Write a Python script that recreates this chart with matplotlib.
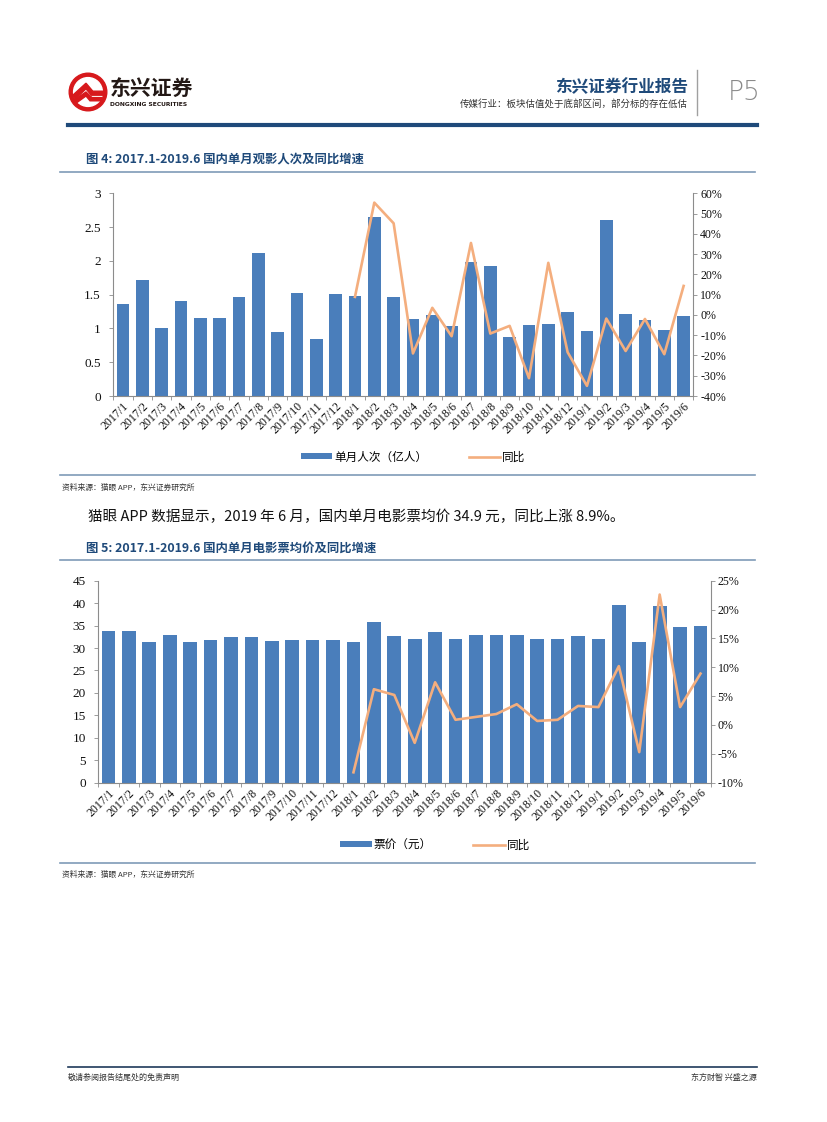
import numpy as np
import matplotlib
matplotlib.use("Agg")
import matplotlib.pyplot as plt
from matplotlib.lines import Line2D
from matplotlib.patches import Patch, Circle, Polygon
from matplotlib.ticker import FuncFormatter, FixedLocator

plt.rcParams['font.family'] = ['Noto Sans CJK SC', 'DejaVu Sans']

W, H = 827, 1122

# ---- 数据 ----
months = ['2017/1', '2017/2', '2017/3', '2017/4', '2017/5', '2017/6', '2017/7', '2017/8',
          '2017/9', '2017/10', '2017/11', '2017/12', '2018/1', '2018/2', '2018/3', '2018/4',
          '2018/5', '2018/6', '2018/7', '2018/8', '2018/9', '2018/10', '2018/11', '2018/12',
          '2019/1', '2019/2', '2019/3', '2019/4', '2019/5', '2019/6']

# 单月观影人次（亿人）
viewers = [1.36, 1.71, 1.01, 1.40, 1.16, 1.16, 1.46, 2.12, 0.94, 1.52, 0.85, 1.51,
           1.48, 2.65, 1.47, 1.14, 1.20, 1.04, 1.98, 1.92, 0.88, 1.05, 1.07, 1.24,
           0.96, 2.60, 1.21, 1.12, 0.97, 1.19]
# 同比（2018/1 起）
viewers_yoy = [8.9, 55.4, 45.2, -19.0, 3.5, -10.5, 35.5, -9.2, -5.4, -31.2, 25.7, -18.4,
               -35.0, -1.8, -17.8, -2.0, -19.4, 14.3]

# 票价（元）
price = [33.9, 33.8, 31.3, 33.0, 31.3, 31.8, 32.4, 32.4, 31.6, 31.8, 31.8, 31.7,
         31.3, 35.9, 32.7, 32.0, 33.6, 32.1, 32.8, 33.0, 32.8, 32.1, 32.1, 32.7,
         32.1, 39.6, 31.3, 39.3, 34.7, 34.9]
price_yoy = [-8.2, 6.2, 5.2, -3.1, 7.4, 0.9, 1.4, 1.9, 3.6, 0.7, 0.9, 3.3,
             3.1, 10.2, -4.7, 22.6, 3.1, 8.9]

BAR = '#4A7EBB'
LINE = '#F4AE7E'
NAVY = '#1F4A7A'
GRAY = '#8C8C8C'
SERIF = 'Liberation Serif'


def fx(px):
    return px / W


def fy(py):
    return 1 - py / H


def hline(fig, y, x0, x1, color, lw):
    fig.add_artist(Line2D([fx(x0), fx(x1)], [fy(y), fy(y)], color=color, lw=lw,
                          transform=fig.transFigure))


def make_chart(fig, box, bars, yoy, ylim, yticks, rlim, rticks, bar_w, yfmt):
    left, top, right, bottom = box
    ax = fig.add_axes([fx(left), fy(bottom), fx(right - left), (bottom - top) / H])
    x = np.arange(len(months))
    ax.bar(x, bars, width=bar_w, color=BAR, zorder=2)
    ax.set_xlim(-0.5, len(months) - 0.5)
    ax.set_ylim(*ylim)
    ax.set_yticks(yticks)
    ax.yaxis.set_major_formatter(FuncFormatter(yfmt))
    ax.set_xticks(x)
    ax.set_xticklabels(months, rotation=45, ha='right', rotation_mode='anchor',
                       fontfamily=SERIF, fontsize=8.6, color='#111111')
    ax.xaxis.set_minor_locator(FixedLocator(np.arange(-0.5, len(months), 1)))
    ax.tick_params(axis='x', which='major', length=0, pad=3)
    ax.tick_params(axis='x', which='minor', length=3, color=GRAY, width=0.6)
    ax.tick_params(axis='y', length=3, color=GRAY, width=0.6, pad=6)
    for lab in ax.get_yticklabels():
        lab.set_fontfamily(SERIF)
        lab.set_fontsize(9.5)
        lab.set_color('#111111')
    for s in ['top', 'right']:
        ax.spines[s].set_visible(False)
    for s in ['left', 'bottom']:
        ax.spines[s].set_color(GRAY)
        ax.spines[s].set_linewidth(0.8)

    ax2 = ax.twinx()
    xl = np.arange(len(months) - len(yoy), len(months))
    ax2.plot(xl, np.array(yoy) / 100.0, color=LINE, lw=1.9, zorder=3)
    ax2.set_ylim(*rlim)
    ax2.set_yticks(rticks)
    ax2.yaxis.set_major_formatter(FuncFormatter(lambda v, p: '%d%%' % round(v * 100)))
    ax2.tick_params(axis='y', length=3, color=GRAY, width=0.6, pad=2)
    for lab in ax2.get_yticklabels():
        lab.set_fontfamily(SERIF)
        lab.set_fontsize(8.6)
        lab.set_color('#111111')
    for s in ['top', 'left', 'bottom']:
        ax2.spines[s].set_visible(False)
    ax2.spines['right'].set_color(GRAY)
    ax2.spines['right'].set_linewidth(0.8)
    return ax, ax2


def legend(fig, y, xc, bar_label):
    handles = [Patch(facecolor=BAR, edgecolor='none', label=bar_label),
               Line2D([], [], color=LINE, lw=1.9, label='同比')]
    fig.legend(handles=handles, loc='center', bbox_to_anchor=(fx(xc), fy(y)), ncol=2,
               frameon=False, handlelength=2.7, handleheight=0.45,
               handletextpad=0.15, columnspacing=3.6,
               prop={'family': ['Noto Sans CJK SC', 'DejaVu Sans'], 'size': 8.4})


fig = plt.figure(figsize=(W / 100, H / 100), dpi=100)

# ---- 页眉 ----
logo = fig.add_axes([fx(68), fy(112), fx(40), 40 / H])
logo.set_xlim(0, 1)
logo.set_ylim(0, 1)
logo.set_aspect('equal')
logo.axis('off')
logo.add_patch(Circle((0.5, 0.5), 0.47, color='#D7191C'))
logo.add_patch(Circle((0.5, 0.5), 0.36, color='white'))
logo.add_patch(Polygon([[0.12, 0.42], [0.45, 0.72], [0.62, 0.52], [0.88, 0.52],
                        [0.88, 0.42], [0.58, 0.42], [0.45, 0.58], [0.18, 0.32]],
                       color='#D7191C'))
logo.add_patch(Polygon([[0.15, 0.3], [0.45, 0.5], [0.6, 0.36], [0.85, 0.36],
                        [0.82, 0.28], [0.55, 0.28], [0.45, 0.4], [0.2, 0.22]],
                       color='#D7191C'))
fig.text(fx(110), fy(88), '东兴证券', fontsize=15, fontweight='bold', color='#231815',
         va='center', ha='left')
fig.text(fx(110), fy(104), 'DONGXING SECURITIES', fontsize=4.3, fontweight='bold',
         color='#231815', va='center', ha='left', fontfamily='DejaVu Sans')

fig.text(fx(688), fy(87), '东兴证券行业报告', fontsize=12, fontweight='bold', color=NAVY,
         ha='right', va='center')
fig.text(fx(688), fy(104), '传媒行业：板块估值处于底部区间，部分标的存在低估', fontsize=6.8,
         color='#333333', ha='right', va='center')
fig.add_artist(Line2D([fx(697), fx(697)], [fy(70), fy(115)], color='#A0A0A0', lw=1.0,
                      transform=fig.transFigure))
fig.text(fx(728), fy(93), 'P5', fontsize=19, color='#8A8A8A', ha='left', va='center',
         fontfamily='DejaVu Sans', fontweight='light')
hline(fig, 124.5, 68, 757, '#1F4A7A', 3.0)

# ---- 图4 ----
fig.text(fx(86), fy(159), '图 4: 2017.1-2019.6 国内单月观影人次及同比增速', fontsize=8.9,
         fontweight='bold', color=NAVY, ha='left', va='center')
hline(fig, 172, 60, 755, '#7F9BB8', 1.2)
make_chart(fig, (113.3, 193.3, 693.3, 396), viewers, yoy=viewers_yoy,
           ylim=(0, 3), yticks=np.arange(0, 3.01, 0.5),
           rlim=(-0.4, 0.6), rticks=np.arange(-0.4, 0.61, 0.1), bar_w=0.65,
           yfmt=lambda v, p: '%g' % v)
legend(fig, 457, 413, '单月人次（亿人）')
hline(fig, 475, 60, 755, '#7F9BB8', 1.2)
fig.text(fx(62), fy(488), '资料来源：猫眼 APP，东兴证券研究所', fontsize=5.6, color='#333333',
         ha='left', va='center', style='italic')

fig.text(fx(88), fy(517),
         '猫眼 APP 数据显示，2019 年 6 月，国内单月电影票均价 34.9 元，同比上涨 8.9%。',
         fontsize=10.5, color='#111111', ha='left', va='center')

# ---- 图5 ----
fig.text(fx(86), fy(548), '图 5: 2017.1-2019.6 国内单月电影票均价及同比增速', fontsize=8.9,
         fontweight='bold', color=NAVY, ha='left', va='center')
hline(fig, 560, 60, 755, '#7F9BB8', 1.2)
make_chart(fig, (98.3, 580.7, 710.7, 782.7), price, yoy=price_yoy,
           ylim=(0, 45), yticks=np.arange(0, 46, 5),
           rlim=(-0.1, 0.25), rticks=np.arange(-0.1, 0.251, 0.05), bar_w=0.67,
           yfmt=lambda v, p: '%d' % v)
legend(fig, 845, 435, '票价（元）')
hline(fig, 863, 60, 755, '#7F9BB8', 1.2)
fig.text(fx(62), fy(875), '资料来源：猫眼 APP，东兴证券研究所', fontsize=5.6, color='#333333',
         ha='left', va='center', style='italic')

# ---- 页脚 ----
hline(fig, 1067, 68, 757, '#1F3A5A', 1.2)
fig.text(fx(68), fy(1077), '敬请参阅报告结尾处的免责声明', fontsize=5.8, color='#333333',
         ha='left', va='center')
fig.text(fx(757), fy(1077), '东方财智 兴盛之源', fontsize=5.8, color='#333333',
         ha='right', va='center')

fig.savefig('out.png', dpi=100)
